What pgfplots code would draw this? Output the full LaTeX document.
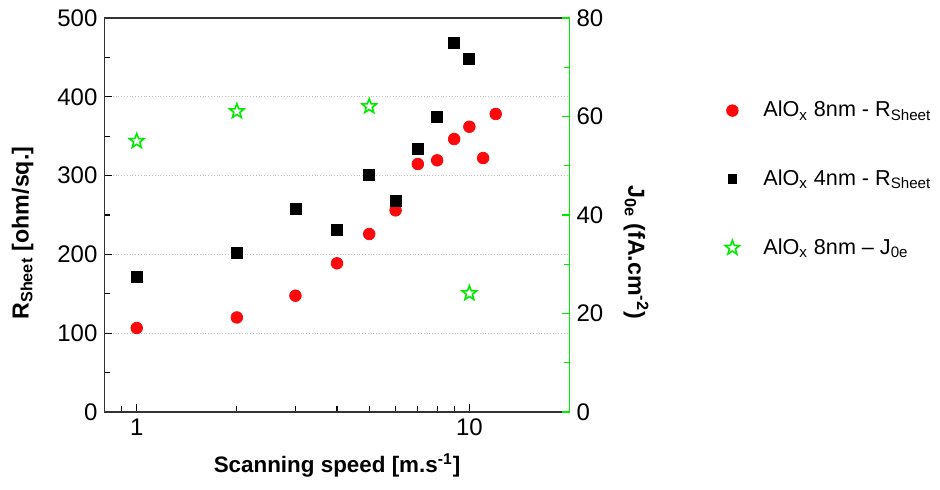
\documentclass[border=0pt]{standalone}
\usepackage{pgfplots}
\pgfplotsset{compat=1.18}
\usepackage{fontspec}
\setmainfont{Liberation Sans}
\definecolor{mred}{RGB}{250,10,10}
\definecolor{mgreen}{RGB}{0,235,0}
\pgfdeclareplotmark{ostar}{%
  \pgfpathmoveto{\pgfpointpolar{90}{\pgfplotmarksize}}%
  \pgfpathlineto{\pgfpointpolar{126}{0.42\pgfplotmarksize}}%
  \pgfpathlineto{\pgfpointpolar{162}{\pgfplotmarksize}}%
  \pgfpathlineto{\pgfpointpolar{198}{0.42\pgfplotmarksize}}%
  \pgfpathlineto{\pgfpointpolar{234}{\pgfplotmarksize}}%
  \pgfpathlineto{\pgfpointpolar{270}{0.42\pgfplotmarksize}}%
  \pgfpathlineto{\pgfpointpolar{306}{\pgfplotmarksize}}%
  \pgfpathlineto{\pgfpointpolar{342}{0.42\pgfplotmarksize}}%
  \pgfpathlineto{\pgfpointpolar{18}{\pgfplotmarksize}}%
  \pgfpathlineto{\pgfpointpolar{54}{0.42\pgfplotmarksize}}%
  \pgfpathclose
  \pgfusepathqstroke
}
\begin{document}
\begin{tikzpicture}
\useasboundingbox (-52.25pt,-38.5pt) rectangle (417.75pt,206pt);
\begin{axis}[
  scale only axis, width=232.5pt, height=197pt,
  xmode=log, xmin=0.8, xmax=20, ymin=0, ymax=500,
  xtick={1,10}, xticklabels={1,10},
  minor xtick={0.9,2,3,4,5,6,7,8,9},
  ytick={0,100,...,500}, minor ytick={50,150,...,450},
  ymajorgrids, grid style={densely dotted, gray!50, line width=0.5pt},
  xtick pos=bottom, ytick pos=left,
  tick align=inside,
  major tick length=4pt, minor tick length=3pt,
  tick style={black, line width=0.6pt},
  axis line style={line width=0.9pt, black!80},
  /pgf/number format/assume math mode=true,
  tick label style={font=\fontsize{12}{14}\selectfont},
  xlabel={\textbf{Scanning speed [m.s\textsuperscript{-1}]}},
  xlabel style={at={(axis description cs:0.5,-0.135)}, anchor=center, font=\fontsize{11.2}{13}\selectfont},
  ylabel={\textbf{R\textsubscript{Sheet} [ohm/sq.]}},
  ylabel style={at={(axis description cs:-0.176,0.454)}, anchor=center, font=\fontsize{11.6}{13}\selectfont},
]
\addplot[only marks, mark=*, mark size=2.9pt, color=mred] coordinates {
(1,106.6) (2,120) (3,147.6) (4,188.7) (5,225.9) (6,255.9) (7,314.7) (8,319.4) (9,346.4) (10,362) (11,322.3) (12,378.2)};
\addplot[only marks, mark=square*, mark size=2.75pt, color=black] coordinates {
(1,170.9) (2,202.2) (3,257.6) (4,231.4) (5,300.3) (6,267.3) (7,334.2) (8,374.8) (9,468.7) (10,448.4)};
\end{axis}
\begin{axis}[
  scale only axis, width=232.5pt, height=197pt,
  xmode=log, xmin=0.8, xmax=20, ymin=0, ymax=80,
  axis x line=none, axis y line*=right,
  ytick={0,20,...,80}, minor ytick={10,30,50,70},
  tick align=inside,
  major tick length=4pt, minor tick length=3pt,
  ytick style={mgreen, line width=0.6pt},
  y axis line style={mgreen, line width=0.9pt},
  /pgf/number format/assume math mode=true,
  tick label style={font=\fontsize{12}{14}\selectfont},
  ylabel={\textbf{J\textsubscript{0e} (fA.cm\textsuperscript{-2})}},
  ylabel style={at={(axis description cs:1.143,0.406)}, anchor=center, rotate=180, font=\fontsize{11.6}{13}\selectfont},
  legend style={at={(axis description cs:1.30,0.81)}, anchor=north west, draw=none, fill=none,
    legend cell align=left, row sep=21pt, font=\fontsize{10.8}{12}\selectfont},
  legend image code/.code={\path[draw=none,fill=none] (0pt,0pt) -- (22pt,0pt); \path[#1] plot coordinates {(8.5pt,0pt)};},
]
\addlegendimage{only marks, mark=*, mark size=2.9pt, color=mred}
\addlegendentry{AlO\textsubscript{x} 8nm - R\textsubscript{Sheet}}
\addlegendimage{only marks, mark=square*, mark size=2.2pt, color=black}
\addlegendentry{AlO\textsubscript{x} 4nm - R\textsubscript{Sheet}}
\addplot[only marks, mark=ostar, mark size=3.8pt, color=mgreen, line width=0.8pt, mark options={solid}] coordinates {
(1,55.0) (2,61.05) (5,62.06) (10,24.1)};
\addlegendentry{AlO\textsubscript{x} 8nm -- J\textsubscript{0e}}
\end{axis}
\end{tikzpicture}
\end{document}
